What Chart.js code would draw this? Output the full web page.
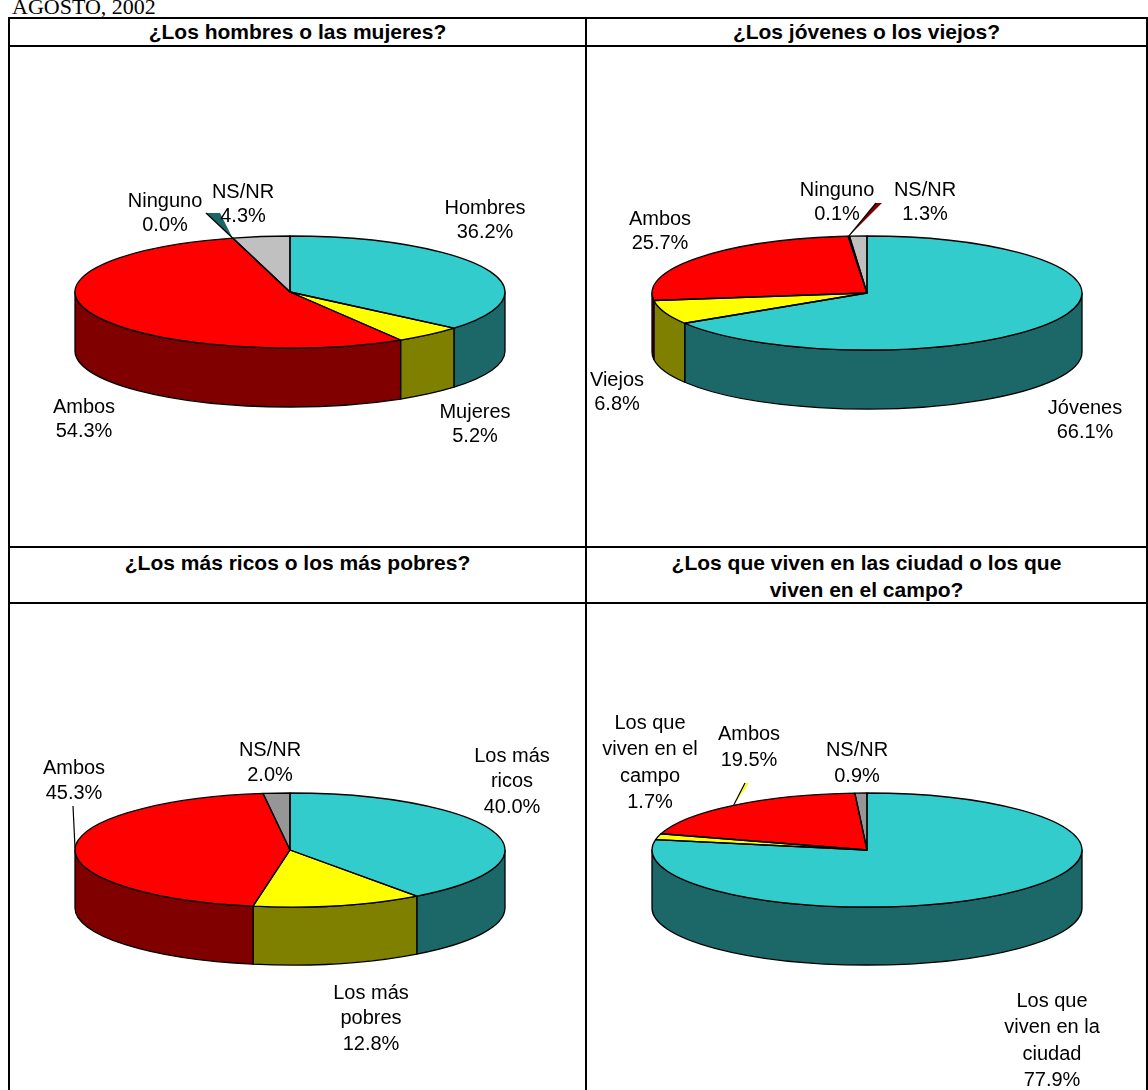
<!DOCTYPE html>
<html><head><meta charset="utf-8">
<script src="https://cdn.jsdelivr.net/npm/chart.js@4.4.1/dist/chart.umd.min.js"></script>
<style>
html,body{margin:0;padding:0;background:#fff;}
body{width:1148px;height:1090px;overflow:hidden;position:relative;font-family:"Liberation Sans",Arial,sans-serif;}
.ln{position:absolute;background:#000;}
.title{position:absolute;font-weight:bold;font-size:21px;text-align:center;line-height:27px;color:#000;white-space:nowrap;}
.sub{position:absolute;left:12px;top:-5px;font-family:"Liberation Serif","Times New Roman",serif;font-size:22px;line-height:24px;}
canvas{position:absolute;}
</style></head>
<body>
<div class="sub">AGOSTO, 2002</div>
<div class="ln" style="left:9px;top:17px;width:1139px;height:2px"></div>
<div class="ln" style="left:9px;top:45px;width:1139px;height:2px"></div>
<div class="ln" style="left:9px;top:546px;width:1139px;height:2px"></div>
<div class="ln" style="left:9px;top:602px;width:1139px;height:2px"></div>
<div class="ln" style="left:8px;top:17px;width:2px;height:1073px"></div>
<div class="ln" style="left:585px;top:17px;width:2px;height:1073px"></div>
<div class="ln" style="left:1146px;top:17px;width:2px;height:1073px"></div>
<div class="title" id="t1" style="left:10px;width:575px;top:18px"></div>
<div class="title" id="t2" style="left:587px;width:559px;top:18px"></div>
<div class="title" id="t3" style="left:10px;width:575px;top:549px"></div>
<div class="title" id="t4" style="left:587px;width:559px;top:549px"></div>
<canvas id="c1" width="575" height="499" style="left:10px;top:47px"></canvas>
<canvas id="c2" width="559" height="499" style="left:587px;top:47px"></canvas>
<canvas id="c3" width="575" height="486" style="left:10px;top:604px"></canvas>
<canvas id="c4" width="559" height="486" style="left:587px;top:604px"></canvas>
<script>
// ---- data ----
const titles = ['¿Los hombres o las mujeres?', '¿Los jóvenes o los viejos?', '¿Los más ricos o los más pobres?', '¿Los que viven en las ciudad o los que viven en el campo?'];
const categories1 = ['Hombres', 'Mujeres', 'Ambos', 'Ninguno', 'NS/NR'];
const values1 = [36.2, 5.2, 54.3, 0.0, 4.3];
const categories2 = ['Jóvenes', 'Viejos', 'Ambos', 'Ninguno', 'NS/NR'];
const values2 = [66.1, 6.8, 25.7, 0.1, 1.3];
const categories3 = ['Los más ricos', 'Los más pobres', 'Ambos', 'NS/NR'];
const values3 = [40.0, 12.8, 45.3, 2.0];
const categories4 = ['Los que viven en la ciudad', 'Los que viven en el campo', 'Ambos', 'NS/NR'];
const values4 = [77.9, 1.7, 19.5, 0.9];

// ---- styling / layout ----
const topColors1 = ['#33CCCC', '#FFFF00', '#FF0000', '#1A6666', '#C0C0C0'];
const sideColors1 = ['#1C6868', '#808000', '#800000', '#0D3333', '#606060'];
const topColors2 = ['#33CCCC', '#FFFF00', '#FF0000', '#800000', '#C0C0C0'];
const sideColors2 = ['#1C6868', '#808000', '#800000', '#400000', '#606060'];
const topColors3 = ['#33CCCC', '#FFFF00', '#FF0000', '#969696'];
const sideColors3 = ['#1C6868', '#808000', '#800000', '#4B4B4B'];

const panels = [
  { canvas: 'c1', off: [10, 47], cats: categories1, vals: values1, top: topColors1, side: sideColors1,
    center: [290, 292], rx: 215, ry: 56, depth: 59, lh: 24,
    labels: [[485, 208], [475, 412], [84, 407], [165, 201], [243, 192]],
    leader: { index: 3, end: [206, 213], w: 14, fill: '#1A6666' } },
  { canvas: 'c2', off: [587, 47], cats: categories2, vals: values2, top: topColors2, side: sideColors2,
    center: [867, 293], rx: 215, ry: 57, depth: 59, lh: 24,
    labels: [[1085, 408], [617, 380], [660, 219], [837, 190], [925, 190]],
    leader: { index: 3, end: [876, 203], w: 6, fill: '#800000' } },
  { canvas: 'c3', off: [10, 604], cats: categories3, vals: values3, top: topColors3, side: sideColors3,
    center: [290, 850], rx: 215, ry: 57, depth: 58, lh: 25.5,
    labels: [[512, 756], [371, 993], [74, 768], [270, 750]],
    leader: { index: 2, end: [73, 806], w: 0, fill: '#000' } },
  { canvas: 'c4', off: [587, 604], cats: categories4, vals: values4, top: topColors3, side: sideColors3,
    center: [867, 850], rx: 215, ry: 57, depth: 58, lh: 26.5,
    labels: [[1052, 1001], [650, 723], [749, 734], [857, 750]],
    leader: { index: 2, end: [745, 783], w: 4, fill: '#FFFF00' } }
];

document.getElementById('t1').textContent = titles[0];
document.getElementById('t2').textContent = titles[1];
document.getElementById('t3').textContent = titles[2];
document.getElementById('t4').innerHTML = '¿Los que viven en las ciudad o los que<br>viven en el campo?';

function wrap(ctx, text, maxW) {
  const words = text.split(' ');
  const lines = [];
  let cur = '';
  for (const w of words) {
    const t = cur ? cur + ' ' + w : w;
    if (cur && ctx.measureText(t).width > maxW) { lines.push(cur); cur = w; } else cur = t;
  }
  if (cur) lines.push(cur);
  return lines;
}

const pie3d = {
  id: 'pie3d',
  beforeDatasetsDraw(chart, args, o) {
    const ctx = chart.ctx;
    const meta = chart.getDatasetMeta(0);
    const a0 = meta.data[0];
    const cx = a0.x, cy = a0.y, rx = a0.outerRadius, ry = rx * o.ratio, d = o.depth;
    ctx.save();
    ctx.lineWidth = 1.3; ctx.strokeStyle = '#000'; ctx.lineJoin = 'round';
    meta.data.forEach((arc, i) => {
      const s = Math.max(arc.startAngle, 0), e = Math.min(arc.endAngle, Math.PI);
      if (e - s <= 1e-6) return;
      ctx.beginPath();
      ctx.ellipse(cx, cy, rx, ry, 0, s, e, false);
      ctx.lineTo(cx + rx * Math.cos(e), cy + ry * Math.sin(e) + d);
      ctx.ellipse(cx, cy + d, rx, ry, 0, e, s, true);
      ctx.closePath();
      ctx.fillStyle = o.sideColors[i];
      ctx.fill(); ctx.stroke();
    });
    ctx.restore();
    ctx.save();
    ctx.translate(cx, cy); ctx.scale(1, o.ratio); ctx.translate(-cx, -cy);
  },
  afterDatasetsDraw(chart, args, o) {
    const ctx = chart.ctx;
    ctx.restore();
    const meta = chart.getDatasetMeta(0);
    const a0 = meta.data[0];
    const cx = a0.x, cy = a0.y, rx = a0.outerRadius, ry = rx * o.ratio;
    ctx.save();
    ctx.lineWidth = 1.3; ctx.strokeStyle = '#000'; ctx.lineJoin = 'round';
    meta.data.forEach(arc => {
      const s = arc.startAngle, e = arc.endAngle;
      ctx.beginPath();
      ctx.moveTo(cx, cy);
      ctx.lineTo(cx + rx * Math.cos(s), cy + ry * Math.sin(s));
      if (e > s) ctx.ellipse(cx, cy, rx, ry, 0, s, e, false);
      ctx.closePath();
      ctx.stroke();
    });
    // leader
    const L = o.leader;
    if (L) {
      const arc = meta.data[L.index];
      const m = (arc.startAngle + arc.endAngle) / 2;
      const px = cx + rx * Math.cos(m), py = cy + ry * Math.sin(m);
      const ex = L.end[0] - o.off[0], ey = L.end[1] - o.off[1];
      if (L.w > 0) {
        ctx.beginPath();
        ctx.moveTo(px, py); ctx.lineTo(ex, ey); ctx.lineTo(ex + L.w, ey); ctx.closePath();
        ctx.fillStyle = L.fill; ctx.fill();
      }
      ctx.beginPath(); ctx.moveTo(px, py); ctx.lineTo(ex, ey); ctx.lineWidth = 1.2; ctx.stroke();
    }
    // labels
    ctx.font = '20px "Liberation Sans", Arial, sans-serif';
    ctx.fillStyle = '#000'; ctx.textAlign = 'center'; ctx.textBaseline = 'middle';
    const labels = chart.data.labels, vals = chart.data.datasets[0].data;
    labels.forEach((lab, i) => {
      const pos = o.labels[i];
      if (!pos) return;
      const lines = wrap(ctx, lab, 110);
      lines.push(vals[i].toFixed(1) + '%');
      lines.forEach((t, k) => ctx.fillText(t, pos[0] - o.off[0], pos[1] - o.off[1] + k * o.lh));
    });
    ctx.restore();
  }
};

panels.forEach(p => {
  const cv = document.getElementById(p.canvas);
  const W = cv.width, H = cv.height;
  const cx = p.center[0] - p.off[0], cy = p.center[1] - p.off[1];
  new Chart(cv, {
    type: 'pie',
    data: {
      labels: p.cats,
      datasets: [{ data: p.vals, backgroundColor: p.top, borderWidth: 0, hoverOffset: 0, clip: false }]
    },
    options: {
      responsive: false, animation: false, devicePixelRatio: 1,
      rotation: 0,
      layout: { padding: { left: cx - p.rx, right: W - (cx + p.rx), top: cy - p.rx, bottom: H - (cy + p.rx) } },
      plugins: {
        legend: { display: false }, tooltip: { enabled: false },
        pie3d: { ratio: p.ry / p.rx, depth: p.depth, sideColors: p.side, labels: p.labels, off: p.off, lh: p.lh, leader: p.leader }
      },
      events: []
    },
    plugins: [pie3d]
  });
});
</script>
</body></html>
